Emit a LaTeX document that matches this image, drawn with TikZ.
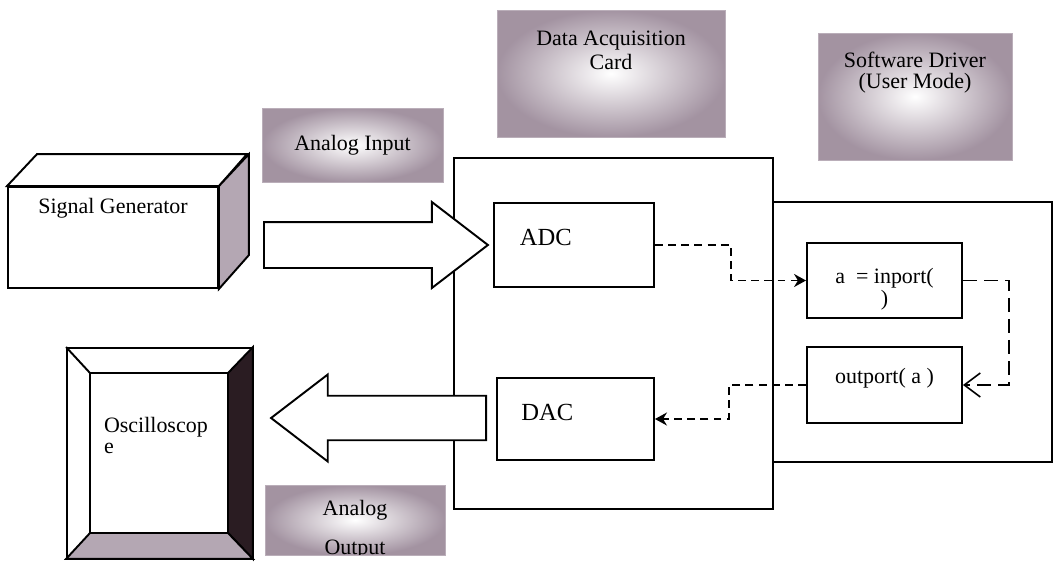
\documentclass[tikz,border=0pt]{standalone}
\usepackage{fontspec}
\setmainfont{Liberation Serif}
\usetikzlibrary{positioning,calc,arrows.meta,shapes.arrows}

\definecolor{grain}{RGB}{140,120,138}
\definecolor{bezel}{RGB}{42,28,34}

\begin{document}
\begin{tikzpicture}[x=0.02cm,y=-0.02cm,
	font=\fontsize{12.5}{14}\selectfont,
	box/.style={rectangle,draw,line width=1.1pt,fill=white,inner sep=0pt},
	conv/.style={box,label={[font=\fontsize{14}{16}\selectfont,xshift=-16pt,yshift=4pt]center:#1}},
	tag/.style={rectangle,draw=grain!60,inner color=white,outer color=grain!80,inner sep=0pt,align=center},
	wide/.style={single arrow,draw,line width=1.1pt,fill=white,inner xsep=0pt,anchor=tail,
		single arrow tip angle=75,single arrow head extend=0.4cm},
	dashconn/.style={line width=0.9pt,dash pattern=on 4.5pt off 3pt,-{Stealth[length=2.4mm,width=2.6mm]}}]
\useasboundingbox (0,0) rectangle (1058,565);

% captions
\node[tag,minimum width=3.62cm,minimum height=1.48cm](lin) at (352.5,145) {Analog Input};
\node[tag,minimum width=4.56cm,minimum height=2.54cm,
	label={[anchor=north,align=center,yshift=-8.5pt]north:Data Acquisition\\Card}](ldaq) at (611,73.5) {};
\node[tag,minimum width=3.88cm,minimum height=2.54cm,
	label={[anchor=north,align=center,yshift=-7.5pt]north:Software Driver\\[-2pt](User Mode)}](ldrv) at (915,96.5) {};
\node[tag,minimum width=3.6cm,minimum height=1.4cm,
	path picture={\node[align=center,anchor=north] at ([yshift=-5.2pt]path picture bounding box.north) {Analog\\[8pt]Output};}](lout) at (355,520) {};

% card and driver
\node[box,minimum width=6.38cm,minimum height=7.02cm](daq) at (613.5,333.5) {};
\node[box,minimum width=5.58cm,minimum height=5.2cm](drv) at (912.5,332) {};
\node[conv=ADC,minimum width=3.2cm,minimum height=1.68cm](adc) at (574,245) {};
\node[conv=DAC,minimum width=3.14cm,minimum height=1.64cm](dac) at (575.5,419) {};
\node[box,minimum width=3.1cm,minimum height=1.5cm,
	label={[align=center,yshift=-5pt]center:a \ = inport(\\[-1pt])}](inp) at (884.5,280.5) {};
\node[box,minimum width=3.1cm,minimum height=1.52cm,
	label={[yshift=4pt]center:outport( a )}](outp) at (884.5,385) {};

% signal generator
\node[box,minimum width=4.2cm,minimum height=2.02cm,
	label={[anchor=north,yshift=-3.5pt]north:Signal Generator}](sig) at (113,237.5) {};
\draw[line width=1.1pt,fill=white] (sig.north west) -- ++(30,-32) -- ++(210,0) -- (sig.north east) -- cycle;
\draw[line width=1.1pt,fill=grain!65] (sig.north east) -- ++(30,-32) -- ++(0,101) -- (sig.south east) -- cycle;

% oscilloscope
\node[box,minimum width=3.7cm,minimum height=4.2cm](osc) at (159.5,453) {};
\coordinate (c1) at (90,373);
\coordinate (c2) at (228,533);
\draw[line width=1.1pt,fill=bezel] (osc.north east) -- (c2 |- c1) -- (c2) -- (osc.south east) -- cycle;
\draw[line width=1.1pt,fill=grain!65] (osc.south west) -- (c1 |- c2) -- (c2) -- (osc.south east) -- cycle;
\draw[line width=1.1pt] (osc.north west) -- (c1);
\node[box,minimum width=2.76cm,minimum height=3.2cm,
	label={[anchor=north west,align=left,xshift=5pt,yshift=-22pt]north west:Oscilloscop\\[-2pt]e}](scr) at (159,453) {};

% analog in and out
\node[wide,inner ysep=0.44cm,minimum height=4.48cm,minimum width=1.68cm](ain) at (263,245) {};
\node[wide,inner ysep=0.4cm,shape border rotate=180,minimum height=4.3cm,minimum width=1.74cm](aout) at (487,418) {};

% data path
\draw[dashconn] (adc.east) -- ++(76,0) |- (inp.west);
\draw[dashconn,dash pattern=on 8pt off 4pt,-{Straight Barb[length=3.2mm,width=4.8mm]}] (inp.east) -- ++(46,0) |- (outp.east);
\draw[dashconn] (outp.west) -- ++(-77,0) |- (dac.east);
\end{tikzpicture}
\end{document}
